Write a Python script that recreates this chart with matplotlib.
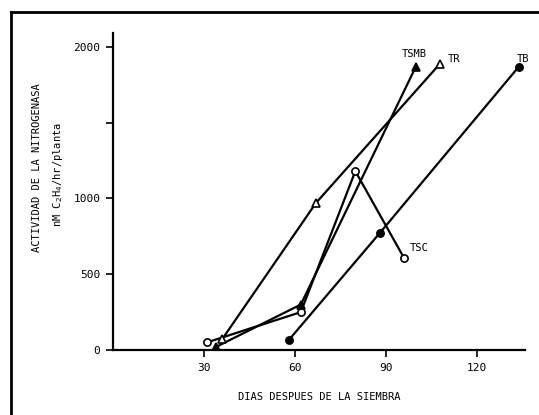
import matplotlib
matplotlib.use("Agg")
from matplotlib import pyplot as plt
from matplotlib.lines import Line2D

# dias despues de la siembra / actividad (nM C2H4/hr/planta)
tsc_x = [31, 62, 80, 96]
tsc_y = [50, 250, 1180, 610]
tsmb_x = [34, 62, 100]
tsmb_y = [20, 300, 1870]
tr_x = [36, 67, 108]
tr_y = [70, 970, 1890]
tb_x = [58, 88, 134]
tb_y = [65, 770, 1870]

xticks = [30, 60, 90, 120]
yticks = [0, 500, 1000, 1500, 2000]
ylabels = ["0", "500", "1000", "", "2000"]

plt.rcParams["font.family"] = "DejaVu Sans Mono"

fig = plt.figure(figsize=(5.39, 4.15), dpi=100)
ax = fig.add_axes([0.2096, 0.1566, 0.7644, 0.7634])

kw = dict(color="black", lw=1.6, markersize=5.2, markeredgewidth=1.2)
ax.plot(tsc_x, tsc_y, marker="o", markerfacecolor="white", **kw)
ax.plot(tsmb_x, tsmb_y, marker="^", markerfacecolor="black", **kw)
ax.plot(tr_x, tr_y, marker="^", markerfacecolor="white", **kw)
ax.plot(tb_x, tb_y, marker="o", markerfacecolor="black", **kw)

ax.text(99.5, 1920, "TSMB", fontsize=7.5, ha="center", va="bottom")
ax.text(110.5, 1890, "TR", fontsize=7.5, ha="left", va="bottom")
ax.text(135.5, 1890, "TB", fontsize=7.5, ha="center", va="bottom")
ax.text(98, 640, "TSC", fontsize=7.5, ha="left", va="bottom")

ax.set_xlim(0, 136)
ax.set_ylim(0, 2090)
ax.set_xticks(xticks)
ax.set_yticks(yticks)
ax.set_yticklabels(ylabels)
ax.tick_params(labelsize=8, direction="out", length=5, width=1.2, pad=4)

for s in ["top", "right"]:
    ax.spines[s].set_visible(False)
for s in ["left", "bottom"]:
    ax.spines[s].set_linewidth(1.6)

ax.set_xlabel("DIAS DESPUES DE LA SIEMBRA", fontsize=7.5, labelpad=14)
fig.text(0.069, 0.595, "ACTIVIDAD DE LA NITROGENASA", rotation=90,
         fontsize=7.5, ha="center", va="center")
fig.text(0.108, 0.58, "nM C$_2$H$_4$/hr/planta", rotation=90,
         fontsize=7.5, ha="center", va="center")

# marco exterior
fig.add_artist(Line2D([11 / 539, 11 / 539], [0, 1 - 12 / 415],
                      transform=fig.transFigure, color="black", lw=2))
fig.add_artist(Line2D([11 / 539, 1], [1 - 12 / 415, 1 - 12 / 415],
                      transform=fig.transFigure, color="black", lw=2))

plt.savefig("out.png", dpi=100)
